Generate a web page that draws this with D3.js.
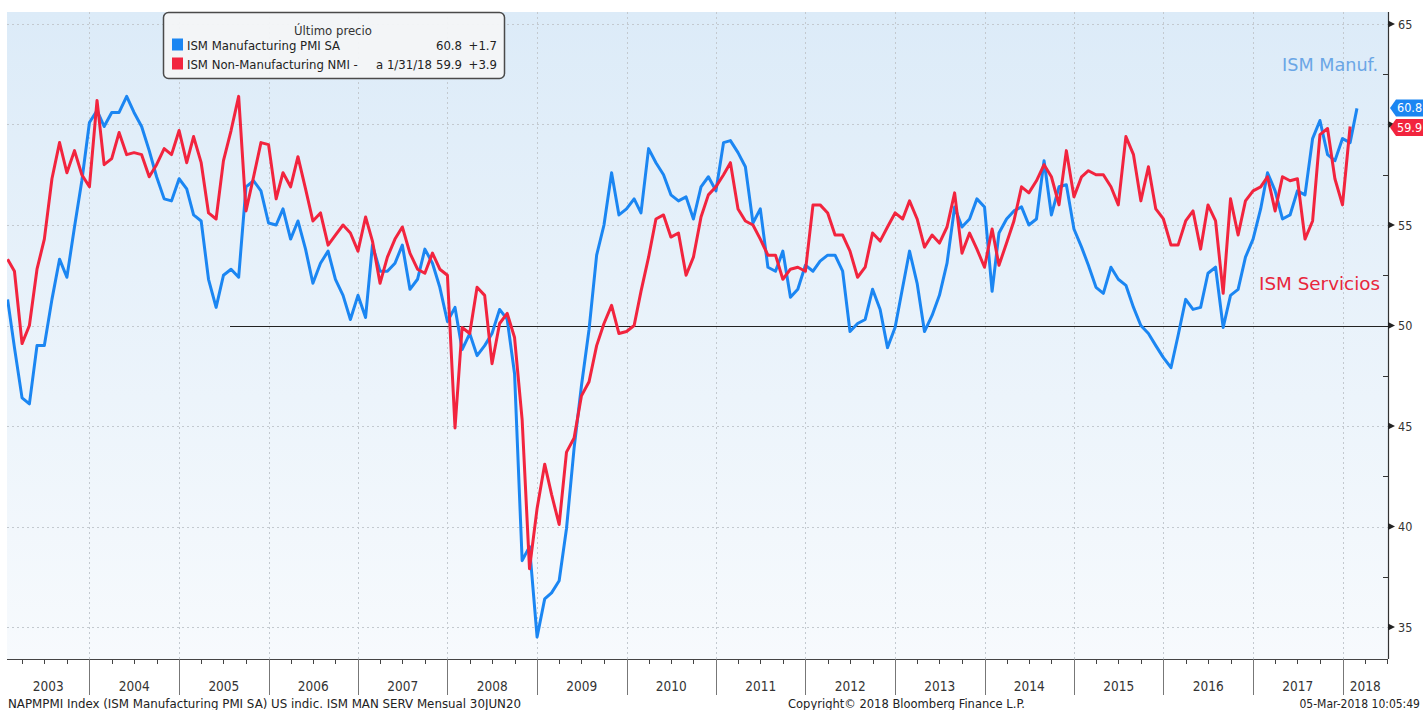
<!DOCTYPE html>
<html><head><meta charset="utf-8">
<script src="https://cdn.jsdelivr.net/npm/d3@7"></script>
<style>
body{margin:0;background:#fff}
svg{display:block}
text{font-family:"DejaVu Sans Condensed","DejaVu Sans",sans-serif;font-stretch:condensed}
</style></head><body>
<svg id="chart" width="1423" height="710"></svg>
<script>
// ---------- data (monthly, Jan 2003 onward) ----------
const firstYear = 2003;
const manufacturing = [
  51.3,48.9,46.4,46.1,49.0,49.0,51.3,53.3,52.4,54.9,57.2,60.1,
  60.7,59.9,60.6,60.6,61.4,60.6,59.9,58.7,57.4,56.3,56.2,57.3,
  56.8,55.5,55.2,52.3,50.9,52.5,52.8,52.4,56.9,57.2,56.7,55.1,
  55.0,55.8,54.3,55.2,53.8,52.1,53.1,53.7,52.3,51.5,50.3,51.5,
  50.4,54.0,52.7,52.7,53.1,54.0,51.8,52.3,53.8,53.1,51.9,50.2,
  50.9,48.8,49.6,48.5,49.0,49.6,50.8,50.3,47.6,38.3,39.0,34.5,
  36.4,36.7,37.3,39.9,43.9,47.0,49.8,53.5,55.0,57.6,55.5,55.8,
  56.3,55.6,58.8,58.1,57.5,56.5,56.2,56.4,55.3,56.9,57.4,56.7,
  59.1,59.2,58.6,57.9,55.1,55.8,52.9,52.7,53.7,51.4,51.8,53.0,
  52.7,53.2,53.5,53.5,52.7,49.7,50.1,50.3,51.8,50.8,48.9,49.9,
  51.9,53.7,52.1,49.7,50.5,51.5,53.1,55.9,54.9,55.3,56.3,55.9,
  51.7,54.6,55.3,55.7,55.9,55.0,55.3,58.2,55.5,56.9,57.0,54.8,
  53.9,53.0,51.9,51.6,52.9,52.3,52.0,50.9,50.0,49.6,49.0,48.4,
  47.9,49.5,51.3,50.8,50.9,52.6,52.9,49.9,51.5,51.8,53.4,54.3,
  55.8,57.6,56.7,55.3,55.5,56.7,56.5,59.3,60.2,58.5,58.2,59.3,
  59.1,60.8
];
const services = [
  53.3,52.7,49.1,50.0,52.8,54.3,57.3,59.1,57.6,58.7,57.5,56.9,
  61.2,58.0,58.3,59.6,58.5,58.6,58.5,57.4,58.0,58.8,58.5,59.7,
  58.1,59.4,58.1,55.6,55.3,58.2,59.7,61.4,55.7,57.4,59.1,59.0,
  56.3,57.6,56.9,58.4,56.8,55.2,55.6,54.0,54.5,55.0,54.6,53.7,
  55.4,54.2,52.1,53.4,54.3,54.9,53.6,52.8,52.6,53.6,52.8,52.5,
  44.9,49.9,49.6,51.9,51.5,48.1,50.1,50.6,49.4,45.3,37.9,40.9,
  43.1,41.6,40.1,43.7,44.4,46.5,47.2,49.0,50.1,51.0,49.6,49.7,
  50.0,51.7,53.4,55.3,55.5,54.4,54.6,52.5,53.4,55.4,56.5,56.9,
  57.5,58.1,55.8,55.2,55.0,54.3,53.5,53.5,52.3,52.8,52.9,52.7,
  56.0,56.0,55.6,54.5,54.5,53.7,52.4,52.9,54.6,54.2,54.9,55.6,
  55.3,56.2,55.3,53.9,54.5,54.1,54.9,56.6,53.6,54.6,53.8,52.9,
  54.8,53.0,54.1,55.2,56.9,56.6,57.2,58.0,57.4,56.0,58.7,56.4,
  57.4,57.7,57.5,57.5,56.9,56.0,59.4,58.5,56.2,57.9,55.8,55.3,
  54.0,54.0,55.2,55.7,53.8,56.0,55.2,51.6,56.3,54.5,56.2,56.7,
  56.9,57.4,55.7,57.4,57.2,57.3,54.3,55.2,59.5,59.8,57.3,56.0,
  59.9
];
const yTicks = [35,40,45,50,55,60,65];
const yMinor = [37.5,42.5,47.5,52.5,57.5,62.5];
const yearLabels = ["2003","2004","2005","2006","2007","2008","2009","2010","2011","2012","2013","2014","2015","2016","2017","2018"];
const seriesNames = ["ISM Manufacturing PMI SA","ISM Non-Manufacturing NMI -"];
const lastValues = ["60.8","59.9"];
const changes = ["+1.7","+3.9"];
const lastValueNums = [60.8, 59.9];
const refLevel = 50;

// ---------- layout ----------
const svg = d3.select("#chart");
const L = 7, R = 1388, T = 12, B = 659;
const blue = "#1b86f2", red = "#f2243e";

const x = d3.scaleTime()
  .domain([new Date(firstYear,0,1), new Date(firstYear+15,0,1)])
  .range([0, 1342.5]);
const y = d3.scaleLinear().domain([35,65]).range([627,24]);
const dateOf = i => new Date(firstYear, i+1, 1); // month-end plotting

const defs = svg.append("defs");
const g = defs.append("linearGradient").attr("id","bg").attr("x1",0).attr("y1",0).attr("x2",0).attr("y2",1);
g.append("stop").attr("offset","0%").attr("stop-color","#dcebf8");
g.append("stop").attr("offset","100%").attr("stop-color","#f7fafd");
defs.append("clipPath").attr("id","clip").append("rect").attr("x",L).attr("y",T).attr("width",R-L).attr("height",B-T);

svg.append("rect").attr("x",L).attr("y",T).attr("width",R-L).attr("height",B-T).attr("fill","url(#bg)");

// grid
const grid = svg.append("g").attr("stroke","#c3c9cf").attr("stroke-width",1).attr("stroke-dasharray","2,3");
yTicks.forEach(v => grid.append("line").attr("x1",L).attr("x2",R).attr("y1",Math.round(y(v))+0.5).attr("y2",Math.round(y(v))+0.5));
yearLabels.slice(1).forEach(yr => {
  const xx = Math.round(x(new Date(+yr,0,1)))+0.5;
  grid.append("line").attr("x1",xx).attr("x2",xx).attr("y1",T).attr("y2",B);
});

// 50 reference line
svg.append("line").attr("x1",230).attr("x2",R).attr("y1",Math.round(y(refLevel))+0.5).attr("y2",Math.round(y(refLevel))+0.5)
  .attr("stroke","#222").attr("stroke-width",1.2);

// series lines
const line = d3.line().x((d,i)=>x(dateOf(i))).y(d=>y(d));
const lines = svg.append("g").attr("clip-path","url(#clip)");
lines.append("path").datum(manufacturing).attr("d",line).attr("fill","none").attr("stroke",blue).attr("stroke-width",3).attr("stroke-linejoin","round");
lines.append("path").datum(services).attr("d",line).attr("fill","none").attr("stroke",red).attr("stroke-width",3).attr("stroke-linejoin","round");

// right axis
const ax = svg.append("g");
ax.append("line").attr("x1",R+0.5).attr("x2",R+0.5).attr("y1",T).attr("y2",B).attr("stroke","#333").attr("stroke-width",1.2);
yMinor.forEach(v => ax.append("line").attr("x1",R-5).attr("x2",R).attr("y1",Math.round(y(v))+0.5).attr("y2",Math.round(y(v))+0.5).attr("stroke","#333"));
yTicks.forEach(v => {
  const yy = y(v);
  ax.append("path").attr("d",`M${R},${yy-3.5}L${R+7},${yy}L${R},${yy+3.5}Z`).attr("fill","#222");
  // the 60 label sits under the last-value tags in the original
  if (v !== 60) ax.append("text").attr("x",R+10).attr("y",yy).attr("dy","0.36em").attr("font-size",12.5).attr("fill","#333").text(v);
});

// bottom axis
const bx = svg.append("g");
bx.append("line").attr("x1",L).attr("x2",R).attr("y1",B+0.5).attr("y2",B+0.5).attr("stroke","#444").attr("stroke-width",1.2);
const quarters = d3.timeMonth.every(3).range(new Date(firstYear,0,1), new Date(firstYear+15,7,1));
quarters.forEach(d => {
  const xx = Math.round(x(d))+0.5;
  if (xx < L || xx > R) return;
  if (d.getMonth() === 0) {
    bx.append("line").attr("x1",xx).attr("x2",xx).attr("y1",B).attr("y2",695).attr("stroke","#777");
  } else {
    bx.append("line").attr("x1",xx).attr("x2",xx).attr("y1",B).attr("y2",B+5).attr("stroke","#444");
  }
});
yearLabels.forEach(yr => {
  const a = Math.max(L, x(new Date(+yr,0,1))), b = Math.min(R, x(new Date(+yr+1,0,1)));
  bx.append("text").attr("x",(a+b)/2).attr("y",691).attr("text-anchor","middle").attr("font-size",13.5).attr("fill","#333").text(yr);
});

// footer
svg.append("text").attr("x",8).attr("y",708).attr("font-size",12).attr("fill","#222")
  .attr("textLength",513).attr("lengthAdjust","spacingAndGlyphs")
  .text("NAPMPMI Index (ISM Manufacturing PMI SA) US indic. ISM MAN SERV  Mensual 30JUN20");
svg.append("text").attr("x",788).attr("y",708).attr("font-size",12).attr("fill","#222")
  .attr("textLength",237).attr("lengthAdjust","spacingAndGlyphs")
  .text("Copyright\u00A9 2018 Bloomberg Finance L.P.");
svg.append("text").attr("x",1420).attr("y",708).attr("text-anchor","end").attr("font-size",12).attr("fill","#222")
  .text("05-Mar-2018 10:05:49");

// last value tags
[blue, red].forEach((c,i) => {
  const cy = i === 0 ? y(lastValueNums[0]) - 0.5 : y(lastValueNums[0]) + 19;
  svg.append("path").attr("d",`M${R+2},${cy}L${R+8},${cy-8.5}L1423,${cy-8.5}L1423,${cy+8.5}L${R+8},${cy+8.5}Z`).attr("fill",c);
  svg.append("text").attr("x",R+9).attr("y",cy).attr("dy","0.36em").attr("font-size",12.5).attr("fill","#fff").text(lastValues[i]);
});

// annotations
svg.append("text").attr("x",1282).attr("y",71).attr("font-size",18).attr("fill","#6aa6e6")
  .attr("textLength",96).attr("lengthAdjust","spacingAndGlyphs").text("ISM Manuf.");
svg.append("text").attr("x",1259).attr("y",290).attr("font-size",18).attr("fill","#e8263c")
  .attr("textLength",121).attr("lengthAdjust","spacingAndGlyphs").text("ISM Servicios");

// legend
const lg = svg.append("g");
lg.append("rect").attr("x",163.5).attr("y",12.5).attr("width",341).attr("height",66).attr("rx",5)
  .attr("fill","#f3f5f7").attr("fill-opacity",0.95).attr("stroke","#4a4a4a").attr("stroke-width",1.5);
lg.append("text").attr("x",333).attr("y",35).attr("text-anchor","middle").attr("font-size",13).attr("fill","#333").text("Último precio");
[blue, red].forEach((c,i) => {
  const by = 49.5 + i*19;
  lg.append("rect").attr("x",172).attr("y",by-11).attr("width",11).attr("height",12).attr("fill",c);
  lg.append("text").attr("x",187).attr("y",by).attr("font-size",13).attr("fill","#222").text(seriesNames[i]);
  lg.append("text").attr("x",462).attr("y",by).attr("text-anchor","end").attr("font-size",13).attr("fill","#222").text(lastValues[i]);
  lg.append("text").attr("x",497).attr("y",by).attr("text-anchor","end").attr("font-size",13).attr("fill","#222").text(changes[i]);
});
lg.append("text").attr("x",432).attr("y",68.5).attr("text-anchor","end").attr("font-size",13).attr("fill","#222").text("a 1/31/18");
</script>
</body></html>
